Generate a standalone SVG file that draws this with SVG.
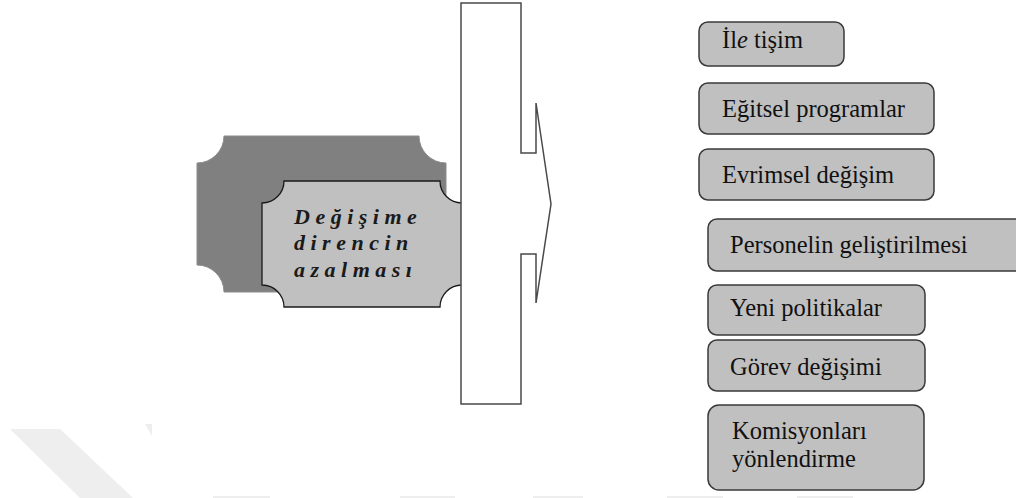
<svg xmlns="http://www.w3.org/2000/svg" width="1016" height="498" viewBox="0 0 1016 498">
<style>
.box{fill:#c0c0c0;stroke:#3a3a3a;stroke-width:1.5}
.lbl{font-size:24.5px;fill:#111}
.big{font-size:22px;font-weight:bold;font-style:italic;letter-spacing:5.5px;fill:#1a1a1a}
.wm{fill:#eeeeee}
</style>
<rect width="1016" height="498" fill="#ffffff"/>
<g id="watermark">
<polygon class="wm" points="10,429 60,429 133,498 80,498"/>
<polygon class="wm" points="145,424 152,424 152,436"/>
<rect class="wm" x="213" y="496" width="57" height="2"/>
<rect class="wm" x="400" y="496" width="55" height="2"/>
<rect class="wm" x="533" y="496" width="50" height="2"/>
<rect class="wm" x="667" y="496" width="56" height="2"/>
<rect class="wm" x="797" y="496" width="56" height="2"/>
</g>
<g id="shadow-shape">
<path d="M224,136 L419,136 A27 27 0 0 0 446,163 L446,265 A27 27 0 0 0 419,292 L224,292 A27 27 0 0 0 197,265 L197,163 A27 27 0 0 0 224,136 Z" fill="#808080" stroke="#8c8c8c" stroke-width="1"/>
</g>
<g id="main-node" font-family="Liberation Serif, Times New Roman, serif">
<path d="M284,181 L440,181 A22 22 0 0 0 462,203 L462,285 A22 22 0 0 0 440,307 L284,307 A22 22 0 0 0 262,285 L262,203 A22 22 0 0 0 284,181 Z" fill="#c0c0c0" stroke="#1a1a1a" stroke-width="1.3"/>
<text class="big" x="294" y="224">Değişime</text>
<text class="big" x="294" y="250">direncin</text>
<text class="big" x="294" y="277">azalması</text>
</g>
<g id="connectors">
<polygon points="461,3 521,3 521,153 536,153 536,103 551,204 536,303 536,254 521,254 521,404 461,404" fill="#ffffff" stroke="#4a4a4a" stroke-width="1.5" stroke-linejoin="miter"/>
</g>
<g id="nodes" font-family="Liberation Serif, Times New Roman, serif">
<g id="n1"><rect class="box" x="699" y="22" width="145" height="44" rx="9"/><text class="lbl" x="722" y="48">İl<tspan font-style="italic">e</tspan> tişim</text></g>
<g id="n2"><rect class="box" x="699" y="83" width="235" height="51" rx="9"/><text class="lbl" x="722" y="117">Eğitsel programlar</text></g>
<g id="n3"><rect class="box" x="699" y="149" width="235" height="51" rx="9"/><text class="lbl" x="722" y="183">Evrimsel değişim</text></g>
<g id="n4"><rect class="box" x="708" y="219" width="320" height="52" rx="9"/><text class="lbl" x="730" y="253">Personelin geliştirilmesi</text></g>
<g id="n5"><rect class="box" x="708" y="285" width="217" height="50" rx="9"/><text class="lbl" x="730" y="316">Yeni politikalar</text></g>
<g id="n6"><rect class="box" x="708" y="340" width="217" height="51" rx="9"/><text class="lbl" x="730" y="375">Görev değişimi</text></g>
<g id="n7"><rect class="box" x="708" y="405" width="216" height="85" rx="11"/><text class="lbl" x="732" y="439">Komisyonları</text><text class="lbl" x="732" y="467">yönlendirme</text></g>
</g>
</svg>
